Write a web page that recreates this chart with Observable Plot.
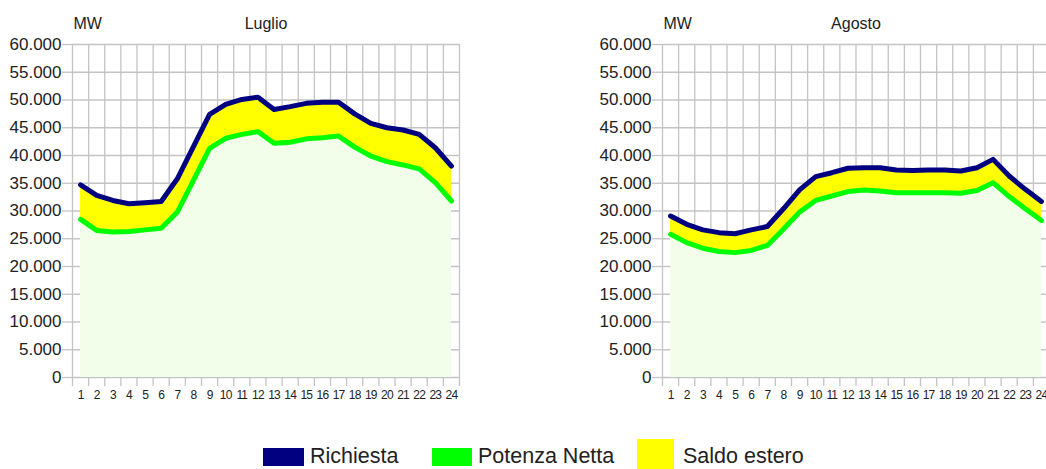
<!DOCTYPE html>
<html>
<head>
<meta charset="utf-8">
<script src="https://cdn.jsdelivr.net/npm/d3@7"></script>
<script src="https://cdn.jsdelivr.net/npm/@observablehq/plot@0.6"></script>
<style>
  body { margin: 0; background: #fff; font-family: "Liberation Sans", Arial, sans-serif; }
  #wrap { position: relative; width: 1046px; height: 469px; overflow: hidden; background: #fff; }
  .chart { position: absolute; top: 0; width: 470px; height: 410px; }
  .chart svg { max-width: none !important; width: 470px; height: 410px; }
  svg g[aria-label="x-axis tick label"] text { letter-spacing: -0.8px; }
  .sw { position: absolute; }
  .lt { position: absolute; font-size: 21.5px; color: #222; line-height: 1; white-space: nowrap; }
</style>
</head>
<body>
<div id="wrap">
  <div class="chart" id="c1" style="left:0px"></div>
  <div class="chart" id="c2" style="left:590px"></div>
  <div id="legend"></div>
</div>
<script>
const hours = d3.range(1, 25);
const titles = ["Luglio", "Agosto"];
const unitLabel = "MW";
const yTicks = d3.range(0, 60001, 5000);

const lugRichiesta = [34700, 32800, 31900, 31300, 31500, 31700, 35800, 41600, 47400, 49200, 50100, 50500,
                      48300, 48800, 49400, 49600, 49600, 47500, 45800, 45000, 44600, 43800, 41400, 38100];
const lugPotenza   = [28500, 26500, 26200, 26300, 26600, 26900, 29800, 35500, 41300, 43100, 43800, 44300,
                      42200, 42400, 43000, 43200, 43500, 41500, 39900, 38900, 38300, 37600, 35100, 31800];
const agoRichiesta = [29100, 27600, 26600, 26100, 25900, 26600, 27200, 30400, 33800, 36200, 36900, 37700,
                      37800, 37800, 37400, 37300, 37400, 37400, 37200, 37800, 39300, 36300, 33900, 31700];
const agoPotenza   = [25800, 24300, 23300, 22700, 22500, 22900, 23800, 26700, 29800, 31900, 32700, 33500,
                      33800, 33600, 33300, 33300, 33300, 33300, 33200, 33700, 35100, 32600, 30400, 28300];

const seriesNames = ["Richiesta", "Potenza Netta", "Saldo estero"];
const seriesColors = ["#000080", "#00ff00", "#ffff00"];
const baseFill = "#f2fdea";
const gridColor = "#c4c4c4";

const fmt = d3.formatLocale({decimal: ",", thousands: ".", grouping: [3], currency: ["", "€"]}).format(",d");
const boundaries = d3.range(0.5, 25, 1);

function makeChart(title, richiesta, potenza) {
  const data = hours.map((h, i) => ({h, r: richiesta[i], p: potenza[i]}));
  return Plot.plot({
    width: 470,
    height: 410,
    marginLeft: 72,
    marginRight: 11,
    marginTop: 44,
    marginBottom: 33,
    style: {fontFamily: "'Liberation Sans', Arial, sans-serif", color: "#222", background: "#fff"},
    x: {type: "linear", domain: [0.5, 24.5]},
    y: {domain: [0, 60000]},
    marks: [
      Plot.gridY({ticks: yTicks, stroke: gridColor, strokeOpacity: 1, strokeWidth: 1.3}),
      Plot.gridX({ticks: boundaries, stroke: gridColor, strokeOpacity: 1, strokeWidth: 1.3}),
      Plot.areaY(data, {x: "h", y1: 0, y2: "p", fill: baseFill}),
      Plot.areaY(data, {x: "h", y1: "p", y2: "r", fill: seriesColors[2]}),
      Plot.line(data, {x: "h", y: "p", stroke: seriesColors[1], strokeWidth: 5}),
      Plot.line(data, {x: "h", y: "r", stroke: seriesColors[0], strokeWidth: 5}),
      Plot.axisY({ticks: yTicks, tickFormat: fmt, tickSize: 10, tickPadding: 1, fontSize: 17,
                  stroke: gridColor, strokeWidth: 1.3, fill: "#222", label: null}),
      Plot.axisX({ticks: boundaries, tickFormat: () => "", tickSize: 9, stroke: gridColor, strokeWidth: 1.3, label: null}),
      Plot.axisX({ticks: hours, tickFormat: d => String(d), tickSize: 0, tickPadding: 13, fontSize: 12,
                  fill: "#222", label: null}),
      Plot.text([unitLabel], {frameAnchor: "top-left", lineAnchor: "middle", textAnchor: "start", dx: 1, dy: -21, fontSize: 16, fill: "#222"}),
      Plot.text([title], {frameAnchor: "top", lineAnchor: "middle", dy: -21, fontSize: 16, fill: "#222"})
    ]
  });
}

document.getElementById("c1").appendChild(makeChart(titles[0], lugRichiesta, lugPotenza));
document.getElementById("c2").appendChild(makeChart(titles[1], agoRichiesta, agoPotenza));

// legend
const legendLayout = [
  {sx: 263, sw: 41, sy: 448, sh: 18, tx: 310},
  {sx: 432, sw: 40, sy: 448, sh: 18, tx: 478},
  {sx: 637, sw: 37, sy: 439, sh: 30, tx: 683}
];
const leg = document.getElementById("legend");
seriesNames.forEach((name, i) => {
  const L = legendLayout[i];
  const s = document.createElement("div");
  s.className = "sw";
  s.style.cssText = `left:${L.sx}px;top:${L.sy}px;width:${L.sw}px;height:${L.sh}px;background:${seriesColors[i]}`;
  leg.appendChild(s);
  const t = document.createElement("div");
  t.className = "lt";
  t.style.cssText = `left:${L.tx}px;top:446px;`;
  t.textContent = name;
  leg.appendChild(t);
});
</script>
</body>
</html>
